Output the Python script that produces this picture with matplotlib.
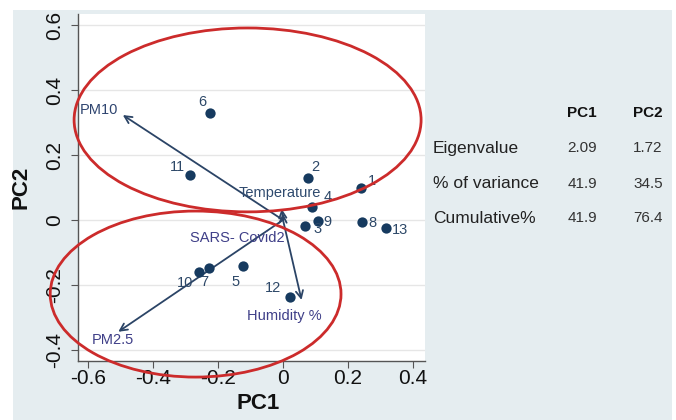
import matplotlib
matplotlib.use("Agg")
import matplotlib.pyplot as plt
from matplotlib.patches import Ellipse

# ---------------- data ----------------
obs_labels = ["1", "2", "3", "4", "5", "6", "7", "8", "9", "10", "11", "12", "13"]
obs_pc1 = [0.240, 0.078, 0.068, 0.088, -0.122, -0.225, -0.227, 0.242, 0.107, -0.260, -0.286, 0.022, 0.316]
obs_pc2 = [0.100, 0.128, -0.018, 0.039, -0.142, 0.330, -0.149, -0.005, -0.002, -0.159, 0.138, -0.236, -0.026]

var_names = ["PM10", "PM2.5", "Humidity %", "Temperature", "SARS- Covid2"]
var_pc1 = [-0.493, -0.507, 0.057, -0.004, 0.000]
var_pc2 = [0.323, -0.344, -0.246, 0.034, 0.020]

table_rows = ["Eigenvalue", "% of variance", "Cumulative%"]
table_cols = ["PC1", "PC2"]
table_pc1 = ["2.09", "41.9", "41.9"]
table_pc2 = ["1.72", "34.5", "76.4"]

xticks = [-0.6, -0.4, -0.2, 0, 0.2, 0.4]
xtick_labels = ["-0.6", "-0.4", "-0.2", "0", "0.2", "0.4"]
yticks = [-0.4, -0.2, 0, 0.2, 0.4, 0.6]
ytick_labels = ["-0.4", "-0.2", "0", "0.2", "0.4", "0.6"]

# ---------------- styling / layout ----------------
W, H = 676, 420
plt.rcParams["font.family"] = ["Liberation Sans", "DejaVu Sans"]
fig = plt.figure(figsize=(W / 100, H / 100), dpi=100)
fig.patch.set_facecolor("white")

# light panel behind everything
bg = fig.add_axes([13 / W, 0, (672 - 13) / W, 1 - 10 / H], zorder=-10)
bg.set_facecolor("#e5edf0")
bg.set_xticks([])
bg.set_yticks([])
for s in bg.spines.values():
    s.set_visible(False)

ax = fig.add_axes([78 / W, (H - 361) / H, (425 - 78) / W, (361 - 14) / H], zorder=1)
ax.set_facecolor("white")
ax.set_xlim(-0.631, 0.437)
ax.set_ylim(-0.434, 0.634)

for s in ["top", "right"]:
    ax.spines[s].set_visible(False)
for s in ["left", "bottom"]:
    ax.spines[s].set_color("#555555")
    ax.spines[s].set_linewidth(1.0)

ax.set_xticks(xticks)
ax.set_xticklabels(xtick_labels, fontsize=15)
ax.set_yticks(yticks)
ax.set_yticklabels(ytick_labels, fontsize=15, rotation=90, va="center")
ax.tick_params(axis="both", length=5, color="#555555", labelcolor="#111111")
ax.tick_params(axis="x", pad=1)
ax.tick_params(axis="y", pad=5)
ax.yaxis.grid(True, color="#e6e6e6", linewidth=1.0)
ax.set_axisbelow(True)

ax.set_xlabel("PC1", fontsize=16, fontweight="bold", color="#111111")
ax.set_ylabel("PC2", fontsize=16, fontweight="bold", color="#111111")
ax.xaxis.set_label_coords(0.52, -0.092)
ax.yaxis.set_label_coords(-0.133, 0.5)

# arrows (loadings)
arrow_color = "#2b4466"
for x, y in zip(var_pc1, var_pc2):
    ax.annotate("", xy=(x, y), xytext=(0, 0),
                arrowprops=dict(arrowstyle="->", color=arrow_color, lw=1.3,
                                mutation_scale=13, shrinkA=0, shrinkB=0),
                zorder=3)

# variable labels (offsets in pixels from arrow tip)
var_offsets = {"PM10": (-43, 5), "PM2.5": (-27, -8), "Humidity %": (-55, -16),
               "Temperature": (-43, 16), "SARS- Covid2": (-93, -25)}
var_colors = {"PM10": "#2f4570", "PM2.5": "#3f3f88", "Humidity %": "#3f3f88",
              "Temperature": "#2e4a6e", "SARS- Covid2": "#3f3f88"}
for name, x, y in zip(var_names, var_pc1, var_pc2):
    ax.annotate(name, xy=(x, y), xytext=var_offsets[name], textcoords="offset pixels",
                fontsize=10.5, color=var_colors[name], ha="left", va="center", zorder=4)

# observations
ax.scatter(obs_pc1, obs_pc2, s=55, color="#163a5f", zorder=4, linewidths=0)
obs_offsets = {"1": (11, 7), "2": (7, 11), "3": (12, -3), "4": (16, 10), "5": (-8, -16),
               "6": (-8, 11), "7": (-5, -14), "8": (11, -1), "9": (10, -1), "10": (-13, -11),
               "11": (-13, 8), "12": (-17, 9), "13": (14, -2)}
for lab, x, y in zip(obs_labels, obs_pc1, obs_pc2):
    ax.annotate(lab, xy=(x, y), xytext=obs_offsets[lab], textcoords="offset pixels",
                fontsize=10.5, color="#2d4868", ha="center", va="center", zorder=4)

# group ellipses
ax.add_patch(Ellipse((-0.109, 0.308), 1.068, 0.566, facecolor="none",
                     edgecolor="#cc2b2b", lw=2.0, clip_on=False, zorder=6))
ax.add_patch(Ellipse((-0.269, -0.228), 0.895, 0.511, facecolor="none",
                     edgecolor="#cc2b2b", lw=2.0, clip_on=False, zorder=6))

# eigen table
col_x = [582, 648]
row_y = [148, 184, 218]
for cx, cname in zip(col_x, table_cols):
    fig.text(cx / W, 1 - 113 / H, cname, fontsize=11, fontweight="bold",
             color="#111111", ha="center", va="center")
for ry, rname in zip(row_y, table_rows):
    fig.text(433 / W, 1 - ry / H, rname, fontsize=12.5, color="#222222",
             ha="left", va="center")
for ry, v in zip(row_y, table_pc1):
    fig.text(col_x[0] / W, 1 - ry / H, v, fontsize=11, color="#333333",
             ha="center", va="center")
for ry, v in zip(row_y, table_pc2):
    fig.text(col_x[1] / W, 1 - ry / H, v, fontsize=11, color="#333333",
             ha="center", va="center")

fig.savefig("out.png", dpi=100)
